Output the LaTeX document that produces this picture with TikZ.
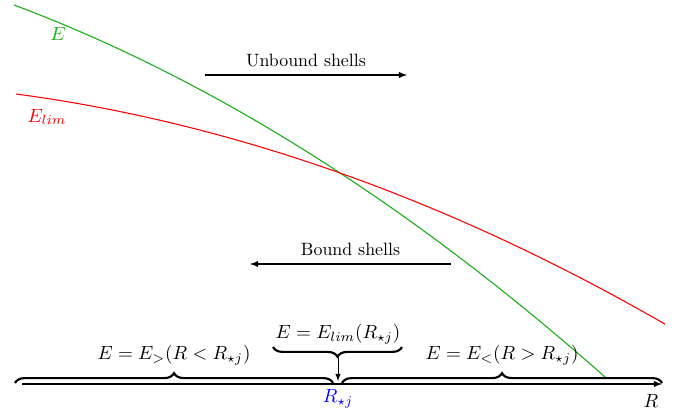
\documentclass[tikz,border=0pt]{standalone}
\usetikzlibrary{decorations.pathreplacing}
\definecolor{ecurve}{RGB}{20,175,20}
\tikzset{
  bracket/.style={decorate,decoration={brace,amplitude=5.5pt},very thick},
  region/.style={scale=1.07},
}
\begin{document}
\begin{tikzpicture}[x=0.0197cm,y=-0.0197cm]
    \useasboundingbox (0,0) rectangle (675,414);

    % R axis
    \coordinate (o) at (22,384);
    \coordinate (rend) at (662,384);
    \draw[-latex,semithick] (o) -- (rend);
    \node[region] (rlab) at (651,401) {$R$};
    \node[region,blue] (rstar) at (338,399) {$R_{\star j}$};

    % energy curves
    \draw[smooth,semithick,ecurve,domain=14:606,samples=60] plot (\x,{-0.16+0.3626*\x+4.31*(\x/100)^2});
    \node[region,ecurve] (elab) at (58,34) {$E$};
    \draw[smooth,semithick,red,domain=16:665,samples=60] plot (\x,{91.95+0.1224*\x+3.41*(\x/100)^2});
    \node[region,red] (elimlab) at (47,117) {$E_{lim}$};

    % shells
    \coordinate (ub1) at (205,75);
    \coordinate (ub2) at (407,75);
    \draw[-latex,semithick] (ub1) -- (ub2) node[midway,above=1pt] (ublab) {Unbound shells};
    \coordinate (b1) at (451,264);
    \coordinate (b2) at (250,264);
    \draw[-latex,semithick] (b1) -- (b2) node[midway,above=1pt] (blab) {Bound shells};

    % regions
    \draw[bracket] (15,383) -- (333,383) node[midway,above=6pt,region] (lreg) {$E=E_{>}(R<R_{\star j})$};
    \draw[bracket] (342,383) -- (662,383) node[midway,above=6pt,region] (rreg) {$E=E_{<}(R>R_{\star j})$};
    \draw[bracket] (402,347) -- (273,347) node[midway,below=6pt] (tip) {};
    \node[region] (mreg) at (338,334) {$E=E_{lim}(R_{\star j})$};
    \coordinate (tipend) at (338,381);
    \draw[-latex] (338,357) -- (tipend);
  \end{tikzpicture}
\end{document}
